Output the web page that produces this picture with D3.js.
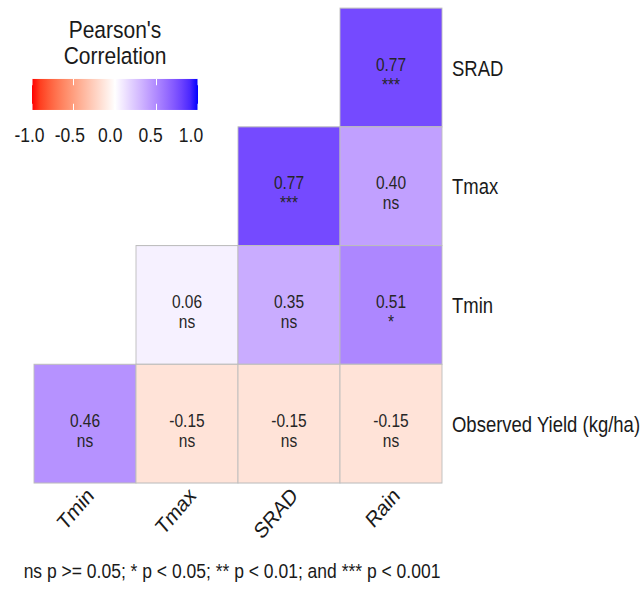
<!DOCTYPE html>
<html>
<head>
<meta charset="utf-8">
<script src="https://cdn.jsdelivr.net/npm/d3@7"></script>
<style>
  html, body { margin: 0; padding: 0; background: #fff; }
  svg { display: block; }
  text { font-family: "Liberation Sans", Arial, sans-serif; }
</style>
</head>
<body>
<div id="chart"></div>
<script>
// Correlation matrix (lower triangle) between yield and weather variables
const columns = ["Tmin", "Tmax", "SRAD", "Rain"];
const rows = ["SRAD", "Tmax", "Tmin", "Observed Yield (kg/ha)"];   // top to bottom

// one entry per drawn tile: [row, column, r, significance]
const rowNames   = ["SRAD", "Tmax", "Tmax", "Tmin", "Tmin", "Tmin",
                    "Observed Yield (kg/ha)", "Observed Yield (kg/ha)",
                    "Observed Yield (kg/ha)", "Observed Yield (kg/ha)"];
const colNames   = ["Rain", "SRAD", "Rain", "Tmax", "SRAD", "Rain",
                    "Tmin", "Tmax", "SRAD", "Rain"];
const rValues    = [0.77, 0.77, 0.40, 0.06, 0.35, 0.51, 0.46, -0.15, -0.15, -0.15];
const signif     = ["***", "***", "ns", "ns", "ns", "*", "ns", "ns", "ns", "ns"];

const legendBreaks = [-1.0, -0.5, 0.0, 0.5, 1.0];
const legendTitle = ["Pearson's", "Correlation"];
const caption = "ns p >= 0.05; * p < 0.05; ** p < 0.01; and *** p < 0.001";

const cells = rValues.map((r, i) => ({ row: rowNames[i], col: colNames[i], r, sig: signif[i] }));

// Drawing space: tiles are square in user units; the output is stretched vertically
const W = 642, PH = 591, H = 509;
const svg = d3.select("#chart").append("svg")
  .attr("width", W).attr("height", PH)
  .attr("viewBox", `0 0 ${W} ${H}`)
  .attr("preserveAspectRatio", "none");

const x = d3.scaleBand().domain(columns).range([34, 442]);
const y = d3.scaleBand().domain(rows).range([7, 416]);

// diverging red - white - blue fill
const colorNeg = d3.interpolateLab("#ffffff", "#ff0000");
const colorPos = d3.interpolateLab("#ffffff", "#0000ff");
const fill = r => r >= 0 ? colorPos(Math.min(r, 1)) : colorNeg(Math.min(-r, 1));

// tiles
const g = svg.append("g");
g.selectAll("rect.tile").data(cells).join("rect")
  .attr("class", "tile")
  .attr("x", d => x(d.col))
  .attr("y", d => y(d.row))
  .attr("width", x.bandwidth())
  .attr("height", y.bandwidth())
  .attr("fill", d => fill(d.r))
  .attr("stroke", "#bdbdbd")
  .attr("stroke-width", 0.9);

// value + significance labels
const lab = g.selectAll("text.lab").data(cells).join("text")
  .attr("class", "lab")
  .attr("text-anchor", "middle")
  .attr("font-size", 15.5)
  .attr("fill", "#262626");
lab.append("tspan")
  .attr("x", d => x(d.col) + x.bandwidth() / 2)
  .attr("y", d => y(d.row) + y.bandwidth() / 2 + 2.6)
  .text(d => d.r.toFixed(2));
lab.append("tspan")
  .attr("x", d => x(d.col) + x.bandwidth() / 2)
  .attr("y", d => y(d.row) + y.bandwidth() / 2 + 20)
  .text(d => d.sig);

// right-hand row labels
const yAxis = d3.axisRight(y).tickSize(0).tickPadding(10);
const ya = svg.append("g").attr("transform", `translate(${x.range()[1]},0)`).call(yAxis);
ya.select(".domain").remove();
ya.selectAll("text")
  .attr("font-size", 18.5)
  .attr("fill", "#1a1a1a")
  .attr("dy", "0.38em");

// bottom column labels, rotated 45 degrees
const xAxis = d3.axisBottom(x).tickSize(0).tickPadding(0);
const xa = svg.append("g").attr("transform", `translate(0,${y.range()[1]})`).call(xAxis);
xa.select(".domain").remove();
xa.selectAll("text")
  .attr("font-size", 19)
  .attr("fill", "#1a1a1a")
  .attr("text-anchor", "end")
  .attr("y", 0).attr("dy", 0)
  .attr("transform", "translate(10,12) rotate(-45)");

// colour legend
const lx = d3.scaleLinear().domain([-1, 1]).range([32, 198]);
const labX = d3.scaleLinear().domain([-1, 1]).range([29.5, 191]);
const defs = svg.append("defs");
const grad = defs.append("linearGradient").attr("id", "corrGrad")
  .attr("x1", "0%").attr("x2", "100%").attr("y1", "0%").attr("y2", "0%");
d3.range(-1, 1.0001, 0.1).forEach(v => {
  grad.append("stop")
    .attr("offset", `${((v + 1) / 2) * 100}%`)
    .attr("stop-color", fill(v));
});
const barTop = 68, barH = 26.7;
const leg = svg.append("g");
leg.append("rect")
  .attr("x", lx(-1)).attr("y", barTop)
  .attr("width", lx(1) - lx(-1)).attr("height", barH)
  .attr("fill", "url(#corrGrad)");
legendBreaks.forEach(v => {
  leg.append("line")
    .attr("x1", lx(v)).attr("x2", lx(v))
    .attr("y1", barTop).attr("y2", barTop + barH / 5)
    .attr("stroke", "#fff").attr("stroke-width", 1);
  leg.append("line")
    .attr("x1", lx(v)).attr("x2", lx(v))
    .attr("y1", barTop + barH * 4 / 5).attr("y2", barTop + barH)
    .attr("stroke", "#fff").attr("stroke-width", 1);
});
leg.selectAll("text.brk").data(legendBreaks).join("text")
  .attr("class", "brk")
  .attr("x", d => labX(d))
  .attr("y", 122.3)
  .attr("text-anchor", "middle")
  .attr("font-size", 17.5)
  .attr("fill", "#1a1a1a")
  .text(d => d.toFixed(1));
leg.selectAll("text.ttl").data(legendTitle).join("text")
  .attr("class", "ttl")
  .attr("x", 115)
  .attr("y", (d, i) => 33 + i * 22.5)
  .attr("text-anchor", "middle")
  .attr("font-size", 21)
  .attr("fill", "#1a1a1a")
  .text(d => d);

// significance caption
svg.append("text")
  .attr("x", 232).attr("y", 497.8)
  .attr("text-anchor", "middle")
  .attr("font-size", 17.5)
  .attr("fill", "#1a1a1a")
  .text(caption);
</script>
</body>
</html>
